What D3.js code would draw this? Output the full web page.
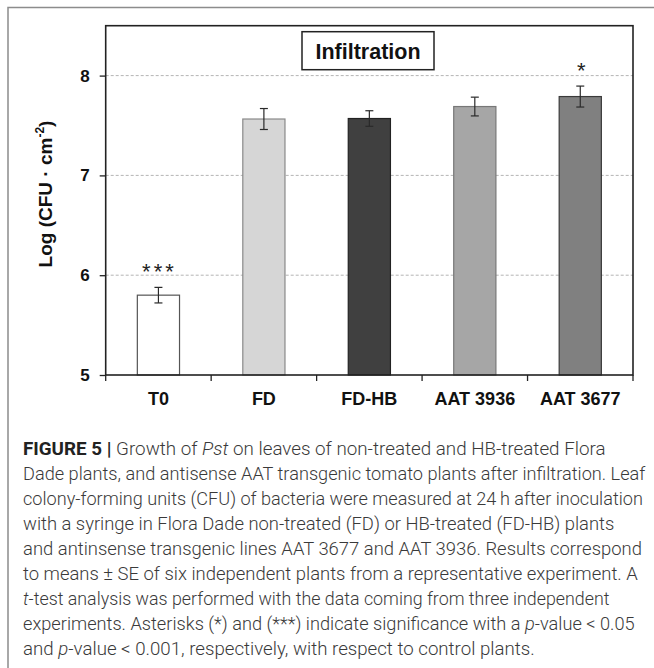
<!DOCTYPE html>
<html>
<head>
<meta charset="utf-8">
<script src="https://cdn.jsdelivr.net/npm/d3@7/dist/d3.min.js"></script>
<style>
  html, body { margin: 0; padding: 0; background: #fff; }
  svg { display: block; }
</style>
</head>
<body>
<svg id="fig" width="654" height="668"></svg>
<script>
// Bacterial growth after infiltration, log CFU per cm²
const categories = ["T0", "FD", "FD-HB", "AAT 3936", "AAT 3677"];
const means      = [5.80, 7.565, 7.57, 7.69, 7.79];
const errors     = [0.078, 0.105, 0.078, 0.094, 0.105];
const marks      = ["***", "", "", "", "*"];
const fills      = ["#ffffff", "#d6d6d6", "#404040", "#a6a6a6", "#808080"];
const strokes    = ["#555555", "#8a8a8a", "#222222", "#777777", "#3a3a3a"];
const yTicks     = [5, 6, 7, 8];
const gridValues = [6, 7, 8];

const captionLines = [
  [{t: "FIGURE 5 | ", b: true}, {t: "Growth of "}, {t: "Pst", i: true}, {t: " on leaves of non-treated and HB-treated Flora"}],
  [{t: "Dade plants, and antisense AAT transgenic tomato plants after infiltration. Leaf"}],
  [{t: "colony-forming units (CFU) of bacteria were measured at 24\u2009h after inoculation"}],
  [{t: "with a syringe in Flora Dade non-treated (FD) or HB-treated (FD-HB) plants"}],
  [{t: "and antinsense transgenic lines AAT 3677 and AAT 3936. Results correspond"}],
  [{t: "to means \u00b1 SE of six independent plants from a representative experiment. A"}],
  [{t: "t", i: true}, {t: "-test analysis was performed with the data coming from three independent"}],
  [{t: "experiments. Asterisks (*) and (***) indicate significance with a "}, {t: "p", i: true}, {t: "-value < 0.05"}],
  [{t: "and "}, {t: "p", i: true}, {t: "-value < 0.001, respectively, with respect to control plants."}]
];
const captionWidths = [583, 623, 620, 592, 619, 615, 587, 612, 512];

const svg = d3.select("#fig");

// outer panel frame (left and top edges visible)
svg.append("rect")
  .attr("x", 8).attr("y", 7.5)
  .attr("width", 700).attr("height", 700)
  .attr("fill", "none").attr("stroke", "#8c8c8c").attr("stroke-width", 1.5);

const plot = {left: 105.7, right: 633, top: 25.7, bottom: 375};

const x = d3.scaleBand()
  .domain(categories)
  .range([plot.left, plot.right])
  .paddingInner(0.6)
  .paddingOuter(0.3);

const y = d3.scaleLinear()
  .domain([5, 8.5])
  .range([plot.bottom, plot.top]);

// dashed gridlines
svg.append("g")
  .selectAll("line")
  .data(gridValues)
  .join("line")
  .attr("x1", plot.left).attr("x2", plot.right)
  .attr("y1", d => y(d)).attr("y2", d => y(d))
  .attr("stroke", "#b4b4b4").attr("stroke-width", 1)
  .attr("stroke-dasharray", "3,2");

// bars
svg.append("g")
  .selectAll("rect")
  .data(categories)
  .join("rect")
  .attr("x", d => x(d))
  .attr("y", (d, i) => y(means[i]))
  .attr("width", x.bandwidth())
  .attr("height", (d, i) => y(5) - y(means[i]))
  .attr("fill", (d, i) => fills[i])
  .attr("stroke", (d, i) => strokes[i])
  .attr("stroke-width", 1.2);

// error bars
const eb = svg.append("g").attr("stroke", "#2a2a2a").attr("stroke-width", 1.2);
categories.forEach((c, i) => {
  const cx = x(c) + x.bandwidth() / 2;
  const y0 = y(means[i] - errors[i]);
  const y1 = y(means[i] + errors[i]);
  eb.append("line").attr("x1", cx).attr("x2", cx).attr("y1", y0).attr("y2", y1);
  eb.append("line").attr("x1", cx - 4).attr("x2", cx + 4).attr("y1", y0).attr("y2", y0);
  eb.append("line").attr("x1", cx - 4).attr("x2", cx + 4).attr("y1", y1).attr("y2", y1);
});

// significance marks
svg.append("g")
  .selectAll("text")
  .data(categories)
  .join("text")
  .attr("x", d => x(d) + x.bandwidth() / 2 + 1)
  .attr("y", (d, i) => y(means[i] + errors[i]) - 8)
  .attr("text-anchor", "middle")
  .attr("font-family", "Liberation Sans, Arial, sans-serif")
  .attr("font-size", 22)
  .attr("letter-spacing", (d, i) => marks[i].length > 1 ? 3 : 0)
  .attr("fill", "#222")
  .text((d, i) => marks[i]);

// plot frame
svg.append("rect")
  .attr("x", plot.left).attr("y", plot.top)
  .attr("width", plot.right - plot.left).attr("height", plot.bottom - plot.top)
  .attr("fill", "none").attr("stroke", "#222").attr("stroke-width", 1.6);

// y axis
const yAxis = svg.append("g")
  .attr("transform", `translate(${plot.left},0)`)
  .call(d3.axisLeft(y).tickValues(yTicks).tickSize(6).tickPadding(10).tickFormat(d3.format("d")));
yAxis.select(".domain").remove();
yAxis.selectAll(".tick line").attr("stroke", "#222").attr("stroke-width", 1.3);
yAxis.selectAll(".tick text")
  .attr("font-family", "Liberation Sans, Arial, sans-serif")
  .attr("font-weight", "bold")
  .attr("font-size", 17)
  .attr("fill", "#111");

// x axis: ticks at category boundaries, labels centred under bars
const gap = x.step() - x.bandwidth();
const boundaries = categories.map(c => x(c) - gap / 2).concat([plot.right]);
svg.append("g")
  .selectAll("line")
  .data(boundaries)
  .join("line")
  .attr("x1", d => d).attr("x2", d => d)
  .attr("y1", plot.bottom).attr("y2", plot.bottom + 6)
  .attr("stroke", "#222").attr("stroke-width", 1.3);

svg.append("g")
  .selectAll("text")
  .data(categories)
  .join("text")
  .attr("x", d => x(d) + x.bandwidth() / 2)
  .attr("y", 405)
  .attr("text-anchor", "middle")
  .attr("font-family", "Liberation Sans, Arial, sans-serif")
  .attr("font-weight", "bold")
  .attr("font-size", 18)
  .attr("fill", "#111")
  .text(d => d);

// y axis title
const yTitle = svg.append("text")
  .attr("transform", "translate(52,194) rotate(-90)")
  .attr("text-anchor", "middle")
  .attr("font-family", "Liberation Sans, Arial, sans-serif")
  .attr("font-weight", "bold")
  .attr("font-size", 19)
  .attr("fill", "#111");
yTitle.append("tspan").text("Log (CFU \u00b7 cm");
yTitle.append("tspan").attr("font-size", 12).attr("dy", -8).text("-2");
yTitle.append("tspan").attr("dy", 8).text(")");

// panel title box
svg.append("rect")
  .attr("x", 302).attr("y", 31.7).attr("width", 132).attr("height", 38)
  .attr("fill", "#fff").attr("stroke", "#222").attr("stroke-width", 1.5);
svg.append("text")
  .attr("x", 368).attr("y", 59)
  .attr("text-anchor", "middle")
  .attr("font-family", "Liberation Sans, Arial, sans-serif")
  .attr("font-weight", "bold")
  .attr("font-size", 21.5)
  .attr("fill", "#111")
  .text("Infiltration");

// caption, each line fitted to its set width
const cap = svg.append("g");
captionLines.forEach((parts, li) => {
  const t = cap.append("text")
    .attr("x", 0).attr("y", 0)
    .attr("font-family", "Roboto, Liberation Sans, sans-serif")
    .attr("font-size", 18)
    .attr("font-weight", 300)
    .attr("fill", "#3a3a3a");
  parts.forEach(p => {
    const s = t.append("tspan").text(p.t);
    if (p.b) s.attr("font-weight", 700).attr("fill", "#222");
    if (p.i) s.attr("font-style", "italic");
  });
  const w = t.node().getComputedTextLength();
  const sx = captionWidths[li] / w;
  t.attr("transform", `translate(23,${455 + li * 25}) scale(${sx},1)`);
});
</script>
</body>
</html>
